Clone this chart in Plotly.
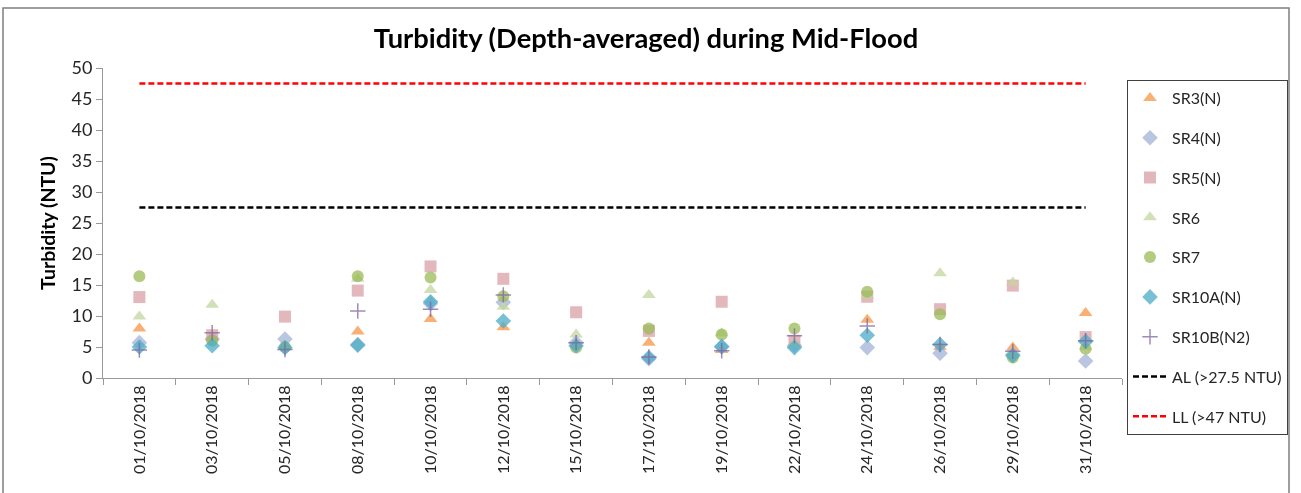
import plotly.graph_objects as go

dates = ["01/10/2018", "03/10/2018", "05/10/2018", "08/10/2018", "10/10/2018",
         "12/10/2018", "15/10/2018", "17/10/2018", "19/10/2018", "22/10/2018",
         "24/10/2018", "26/10/2018", "29/10/2018", "31/10/2018"]

sr3 = [8.0, 6.5, 5.0, 7.5, 9.5, 8.2, 5.5, 5.7, 4.5, 5.5, 9.4, 5.0, 4.9, 10.5]
sr4 = [5.7, 6.3, 6.3, 5.4, 12.0, 12.2, 5.7, 3.1, 5.0, 5.2, 4.9, 4.0, 3.8, 2.75]
sr5 = [13.05, 6.9, 9.9, 14.1, 18.0, 16.0, 10.6, 7.6, 12.3, 6.0, 13.1, 11.1, 14.9, 6.6]
sr6 = [9.9, 11.8, 5.3, 16.0, 14.2, 11.5, 7.0, 13.4, 7.2, 5.5, 13.3, 16.9, 15.4, 5.0]
sr7 = [16.4, 6.0, 5.0, 16.4, 16.2, 13.2, 4.9, 8.0, 7.0, 8.0, 13.9, 10.3, 3.3, 4.7]
sr10a = [5.0, 5.2, 4.9, 5.3, 12.3, 9.2, 5.2, 3.3, 5.1, 4.9, 6.9, 5.4, 3.6, 5.9]
sr10b = [4.5, 7.3, 4.6, 10.8, 11.1, 13.4, 5.7, 3.4, 4.4, 6.8, 8.4, 5.4, 4.3, 6.0]

al_level = 27.5
ll_level = 47.5

series = [
    ("SR3(N)", sr3, "triangle-up", "#F79646"),
    ("SR4(N)", sr4, "diamond", "#A3B2D8"),
    ("SR5(N)", sr5, "square", "#D9A0A6"),
    ("SR6", sr6, "triangle-up", "#C3D69F"),
    ("SR7", sr7, "circle", "#9BBB59"),
    ("SR10A(N)", sr10a, "diamond", "#4BACC6"),
    ("SR10B(N2)", sr10b, "cross-thin", "#8064A2"),
]

FONT = "Lato, Liberation Sans, sans-serif"

fig = go.Figure()
for i, (name, vals, sym, col) in enumerate(series):
    if sym == "cross-thin":
        marker = dict(symbol=sym, size=11, color=col, line=dict(color=col, width=1.5))
    else:
        marker = dict(symbol=sym, size=12, color=col, line=dict(width=0))
    fig.add_trace(go.Scatter(x=dates, y=vals, mode="markers", name=name,
                             marker=marker, opacity=0.75,
                             legendgroup=f"g{i}"))

fig.add_trace(go.Scatter(x=dates, y=[al_level] * len(dates), mode="lines",
                         name="AL (>27.5 NTU)", legendgroup="al",
                         line=dict(color="black", width=2.5, dash="6px,3px")))
fig.add_trace(go.Scatter(x=dates, y=[ll_level] * len(dates), mode="lines",
                         name="LL (>47 NTU)", legendgroup="ll",
                         line=dict(color="#FF0000", width=2.5, dash="6px,3px")))

W, H = 1301, 493
# plot-area (axes) pixel bounds
L, R, T, B = 103, 1122, 68, 378
# grid area (taller than the axes so the legend has room)
GT, GB = 60, 433

def px_x(p):
    return (p - L) / (R - L)

def px_y(p):
    return (GB - p) / (GB - GT)

fig.update_layout(
    width=W, height=H,
    margin=dict(l=L, r=W - R, t=GT, b=H - GB, autoexpand=False),
    paper_bgcolor="white", plot_bgcolor="white",
    font=dict(family=FONT, size=16, color="#262626"),
    title=dict(text="<b>Turbidity (Depth-averaged) during Mid-Flood</b>",
               x=646 / W, xanchor="center", y=1 - 38 / H, yanchor="middle",
               font=dict(family=FONT, size=27.3, color="black")),
    showlegend=True,
    legend=dict(x=px_x(1127), y=px_y(80), xanchor="left", yanchor="top",
                bordercolor="#404040", borderwidth=1, bgcolor="white",
                font=dict(family=FONT, size=16, color="#262626"),
                tracegroupgap=16, itemwidth=34),
    xaxis=dict(type="category", showgrid=False, showline=True,
               linecolor="#999999", linewidth=1, ticks="outside",
               tickson="boundaries", ticklen=6, tickcolor="#999999",
               tickangle=-90, tickfont=dict(family=FONT, size=16, color="#262626"),
               range=[-0.5, len(dates) - 0.5], automargin=False),
    yaxis=dict(range=[0, 50], dtick=5, showgrid=False, showline=True,
               domain=[px_y(B), px_y(T)],
               linecolor="#999999", linewidth=1, ticks="outside", ticklen=6,
               tickcolor="#999999", zeroline=False, automargin=False,
               tickfont=dict(family=FONT, size=18, color="#262626"),
               title=dict(text="<b>Turbidity (NTU)</b>",
                          font=dict(family=FONT, size=19.5, color="black"),
                          standoff=10)),
)

fig.add_shape(type="rect", xref="paper", yref="paper",
              x0=px_x(3), x1=px_x(1289), y0=px_y(600), y1=px_y(8),
              line=dict(color="#7F7F7F", width=1.5), fillcolor="rgba(0,0,0,0)",
              layer="below")

fig.write_html("out.html", config={"displayModeBar": False},
               post_script="document.body.style.margin='0';")
